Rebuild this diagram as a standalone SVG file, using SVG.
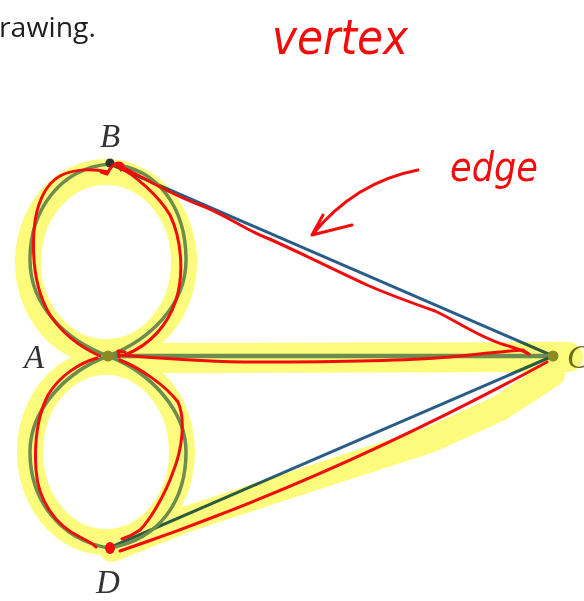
<svg xmlns="http://www.w3.org/2000/svg" width="584" height="601" viewBox="0 0 584 601">
<defs>
<filter id="soft" x="-5%" y="-5%" width="110%" height="110%"><feGaussianBlur stdDeviation="0.7"/></filter>
<style>
.edge{fill:none;stroke:#2b5c88;stroke-width:3;stroke-linecap:round}
.edge.lit{stroke:#6e8fa0;stroke-width:3.5}
.hl{fill:none;stroke:#fcfb7c;stroke-linecap:round;stroke-linejoin:round}
.ink{fill:none;stroke:#f20d0d;stroke-width:3;stroke-linecap:round;stroke-linejoin:round}
.lbl{font-family:"Liberation Serif",serif;font-style:italic;font-size:33px;fill:#333}
.hand{font-family:"DejaVu Sans","Liberation Sans",sans-serif;font-style:italic;fill:#f20d0d}
</style>
</defs>
<rect width="584" height="601" fill="#fff"/>
<text x="-1" y="37" font-family="Open Sans, sans-serif" font-size="28" fill="#1e1e1e" textLength="97" lengthAdjust="spacingAndGlyphs">rawing.</text>

<g id="connectors" filter="url(#soft)">
<path class="edge" d="M110,164 L553,356"/>
<path class="edge lit" d="M108,356 L553,356" style="stroke-width:4.5"/>
<path class="edge" d="M109,548 L553,356"/>
<path class="edge lit" d="M110,164 C60,168 30,210 30,260 C30,305 65,340 108,356"/>
<path class="edge lit" d="M110,164 C160,168 186,210 186,260 C186,305 150,340 108,356"/>
<path class="edge lit" d="M108,356 C65,372 30,410 30,452 C30,500 60,540 109,548"/>
<path class="edge lit" d="M108,356 C150,372 186,410 186,452 C186,500 160,540 109,548"/>
</g>

<g id="labels">
<text class="lbl" x="110" y="147" text-anchor="middle">B</text>
<text class="lbl" x="34" y="368" text-anchor="middle">A</text>
<text class="lbl" x="108" y="593" text-anchor="middle">D</text>
<text class="lbl" x="567" y="368" style="fill:#707030">C</text>
</g>

<g id="highlight" style="mix-blend-mode:multiply">
<ellipse class="hl" cx="106" cy="262" rx="78" ry="90" stroke-width="26"/>
<ellipse class="hl" cx="106" cy="452" rx="76" ry="90" stroke-width="26"/>
<path class="hl" d="M112,358 L568,357" stroke-width="30"/>
<path class="hl" d="M112,549 L190,518 L300,482 L430,440 L500,408 L552,374" stroke-width="26"/>
</g>

<g id="node-A"><circle cx="108" cy="356" r="5.5" fill="#8c8a24"/></g>
<g id="node-B"><circle cx="110" cy="163" r="4.5" fill="#333"/></g>
<g id="node-C"><circle cx="553" cy="356" r="5.5" fill="#8c8a24"/></g>

<g id="annotations">
<path class="ink" d="M108,172 C95,169 75,168 60,176 C45,184 36,205 34,230 C32,260 35,290 50,315 C62,333 80,347 100,356"/>
<path class="ink" d="M117,166 C135,175 158,195 170,215 C182,240 184,275 176,300 C168,325 150,345 125,355"/>
<path class="ink" d="M101,172 L107,174 C110,168 113,164 118,163 C123,163 125,167 121,170"/>
<path class="ink" d="M125,352 L118,351 L119,357"/>
<path class="ink" d="M120,355 C160,358 200,362 260,362 C330,362 400,361 450,357 C480,354 505,351 523,350 L528,354"/>
<path class="ink" d="M120,166 C140,175 165,192 200,205 C225,214 245,230 267,238 C295,250 330,268 367,285 C390,295 415,304 435,311 C455,320 480,338 505,345 C515,348 522,350 529,354"/>
<path class="ink" d="M97,358 C80,363 60,375 48,395 C38,415 34,440 36,470 C38,500 55,525 80,537 C88,541 93,544 96,547"/>
<path class="ink" d="M120,360 C140,368 165,385 178,402 C186,420 182,450 173,472 C165,495 150,520 140,530 C133,535 128,537 122,539"/>
<path class="ink" d="M120,551 Q330,480 547,362"/>
<path class="ink" d="M418,170 Q355,182 312,235 M323,215 L312,235 L352,225"/>
<text class="hand" x="272" y="54" font-size="48" textLength="136" lengthAdjust="spacingAndGlyphs">vertex</text>
<text class="hand" x="450" y="181" font-size="40" textLength="88" lengthAdjust="spacingAndGlyphs">edge</text>
</g>
<g id="node-D"><ellipse cx="110" cy="548" rx="5" ry="6" fill="#f20d0d"/></g>
</svg>
